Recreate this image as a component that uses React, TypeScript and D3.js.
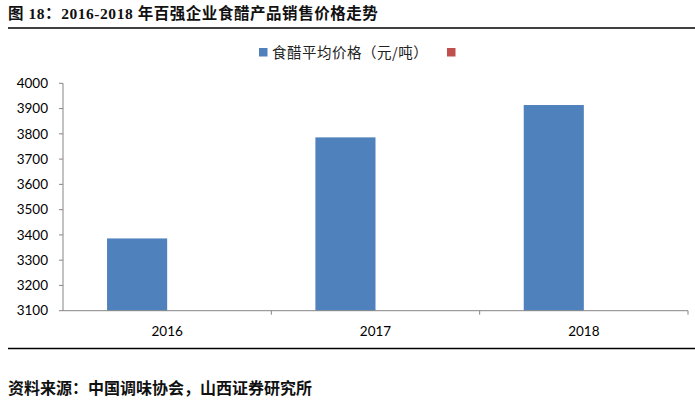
import * as React from "react";
import { scaleBand, scaleLinear, range } from "d3";

const years = ["2016", "2017", "2018"];
const avgPrice = [3386, 3786, 3914];
const seriesNames = ["食醋平均价格（元/吨）", ""];
const yTicks = range(3100, 4001, 100);

const title = "图 18：2016-2018 年百强企业食醋产品销售价格走势";
const source = "资料来源：中国调味协会，山西证券研究所";

const W = 695;
const H = 402;
const plot = { left: 63, right: 688, top: 83.3, bottom: 310.7 };
const cjk = "'Noto Sans CJK SC', 'Noto Sans', sans-serif";
const titleFont = "'Liberation Serif', 'Noto Sans CJK SC', serif";
const num = "Lato, 'Liberation Sans', sans-serif";

export default function App() {
  const xScale = scaleBand()
    .domain(years)
    .range([plot.left, plot.right]);

  const inner = scaleBand()
    .domain(["a", "b"])
    .range([0, xScale.bandwidth()])
    .paddingInner(0)
    .paddingOuter(0.733);

  const yScale = scaleLinear()
    .domain([3100, 4000])
    .range([plot.bottom, plot.top]);

  return (
    <div style={{ position: "absolute", left: 0, top: 0 }}>
      <svg width={W} height={H} style={{ display: "block", background: "white" }}>
        {/* title */}
        <text x={8} y={19} fontFamily={titleFont} fontWeight="bold" fontSize={15.5} letterSpacing={0.55} fill="#111">
          {title}
        </text>
        <line x1={8} x2={W} y1={28} y2={28} stroke="#000" strokeWidth={1.5} />

        {/* legend */}
        <rect x={259} y={48} width={8.5} height={8.5} fill="#4F81BD" />
        <text x={272} y={57.5} fontFamily={cjk} fontSize={14.5} letterSpacing={0.5} fill="#222">
          {seriesNames[0]}
        </text>
        <rect x={447} y={48} width={8.5} height={8.5} fill="#C0504D" />

        {/* bars */}
        {avgPrice.map((d, i) => (
          <rect
            key={years[i]}
            x={(xScale(years[i]) ?? 0) + (inner("a") ?? 0)}
            y={yScale(d)}
            width={inner.bandwidth()}
            height={yScale(3100) - yScale(d)}
            fill="#4F81BD"
          />
        ))}

        {/* y axis */}
        <line x1={plot.left} x2={plot.left} y1={plot.top} y2={plot.bottom} stroke="#868686" />
        {yTicks.map((t) => (
          <g key={t}>
            <line x1={plot.left - 4} x2={plot.left} y1={yScale(t)} y2={yScale(t)} stroke="#868686" />
            <text
              x={48}
              y={yScale(t)}
              dy="0.35em"
              textAnchor="end"
              fontFamily={num}
              fontSize={13.5}
              fill="#000"
            >
              {t}
            </text>
          </g>
        ))}

        {/* x axis */}
        <line x1={plot.left} x2={plot.right} y1={plot.bottom} y2={plot.bottom} stroke="#868686" />
        {years.map((c) => {
          const x0 = xScale(c) ?? 0;
          return (
            <g key={c}>
              <line x1={x0 + xScale.bandwidth()} x2={x0 + xScale.bandwidth()} y1={plot.bottom} y2={plot.bottom + 4} stroke="#868686" />
              <text
                x={x0 + xScale.bandwidth() / 2}
                y={331}
                dy="0.35em"
                textAnchor="middle"
                fontFamily={num}
                fontSize={13.5}
                fill="#000"
              >
                {c}
              </text>
            </g>
          );
        })}

        {/* bottom rule and source */}
        <line x1={8} x2={W} y1={348.5} y2={348.5} stroke="#000" strokeWidth={1.5} />
        <text x={8} y={394} fontFamily={cjk} fontWeight="bold" fontSize={16} fill="#111">
          {source}
        </text>
      </svg>
    </div>
  );
}
